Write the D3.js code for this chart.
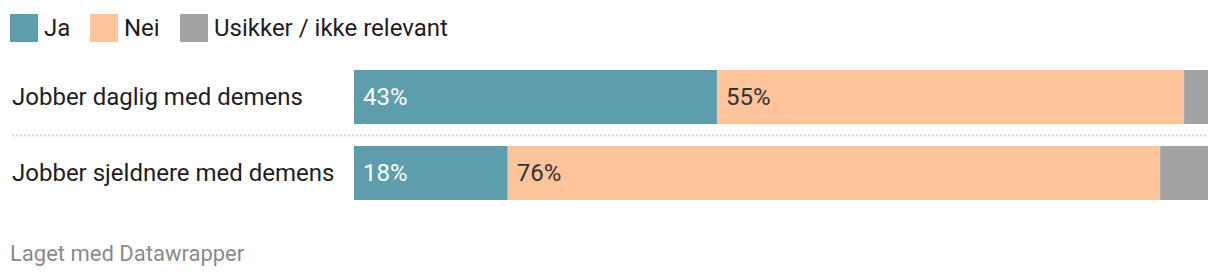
<!DOCTYPE html>
<html lang="no">
<head>
<meta charset="UTF-8">
<title>Jobber med demens</title>
<script src="https://cdn.jsdelivr.net/npm/d3@7"></script>
<style>
    body { margin: 0; background: #fff; font-family: Roboto, "Noto Sans", sans-serif; }
    .legend text { font-size: 24px; fill: #1d1d1d; }
    .row-label { font-size: 24px; fill: #1d1d1d; }
    .value-label { font-size: 24px; }
    .footer { font-size: 22px; fill: #8a8a8a; }
</style>
</head>
<body>
<script>
    // data
    var categories = ["Jobber daglig med demens", "Jobber sjeldnere med demens"];
    var seriesNames = ["Ja", "Nei", "Usikker / ikke relevant"];
    var ja = [42.5, 18.0];
    var nei = [54.7, 76.4];
    var usikker = [2.8, 5.6];
    var colors = ["#5e9eac", "#fdc39b", "#a3a3a3"];

    var width = 1220, height = 276;

    var svg = d3.select("body").append("svg")
        .attr("width", width)
        .attr("height", height);

    // scales
    var x = d3.scaleLinear()
        .domain([0, 100])
        .range([354, 1208]);

    var y = d3.scaleBand()
        .domain(categories)
        .range([70, 200])
        .paddingInner(0.2895)
        .paddingOuter(0);

    var color = d3.scaleOrdinal()
        .domain(seriesNames)
        .range(colors);

    // stacked table
    var table = categories.map(function(c, i) {
        return { cat: c, "Ja": ja[i], "Nei": nei[i], "Usikker / ikke relevant": usikker[i] };
    });
    var stacked = d3.stack().keys(seriesNames)(table);

    // legend
    var legendX = [10, 90, 180];
    var legend = svg.append("g").attr("class", "legend")
        .selectAll("g")
        .data(seriesNames)
        .enter().append("g")
        .attr("transform", function(d, i) { return "translate(" + legendX[i] + ",14)"; });
    legend.append("rect")
        .attr("width", 28)
        .attr("height", 28)
        .attr("fill", function(d) { return color(d); });
    legend.append("text")
        .attr("x", 34)
        .attr("y", 22)
        .text(function(d) { return d; });

    // separator between rows
    svg.append("line")
        .attr("x1", 12)
        .attr("x2", 1208)
        .attr("y1", 135.5)
        .attr("y2", 135.5)
        .attr("stroke", "#cfcfcf")
        .attr("stroke-width", 2)
        .attr("stroke-dasharray", "2,2");

    // row labels
    svg.append("g").selectAll("text")
        .data(categories)
        .enter().append("text")
        .attr("class", "row-label")
        .attr("x", 12)
        .attr("y", function(d) { return y(d) + y.bandwidth() / 2; })
        .attr("dy", "0.35em")
        .text(function(d) { return d; });

    // bars
    var layers = svg.append("g").selectAll("g")
        .data(stacked)
        .enter().append("g")
        .attr("fill", function(d) { return color(d.key); });

    layers.selectAll("rect")
        .data(function(d) { return d; })
        .enter().append("rect")
        .attr("x", function(d) { return x(d[0]); })
        .attr("y", function(d) { return y(d.data.cat); })
        .attr("width", function(d) { return x(d[1]) - x(d[0]); })
        .attr("height", y.bandwidth());

    // value labels, only for Ja and Nei
    layers.filter(function(d) { return d.key !== "Usikker / ikke relevant"; })
        .selectAll("text")
        .data(function(d) { return d.map(function(p) { return { p: p, key: d.key }; }); })
        .enter().append("text")
        .attr("class", "value-label")
        .attr("x", function(d) { return x(d.p[0]) + 9; })
        .attr("y", function(d) { return y(d.p.data.cat) + y.bandwidth() / 2; })
        .attr("dy", "0.35em")
        .attr("fill", function(d) { return d.key === "Ja" ? "#ffffff" : "#333333"; })
        .text(function(d) { return Math.round(d.p[1] - d.p[0]) + "%"; });

    svg.append("text")
        .attr("class", "footer")
        .attr("x", 10)
        .attr("y", 261)
        .text("Laget med Datawrapper");
</script>
</body>
</html>
